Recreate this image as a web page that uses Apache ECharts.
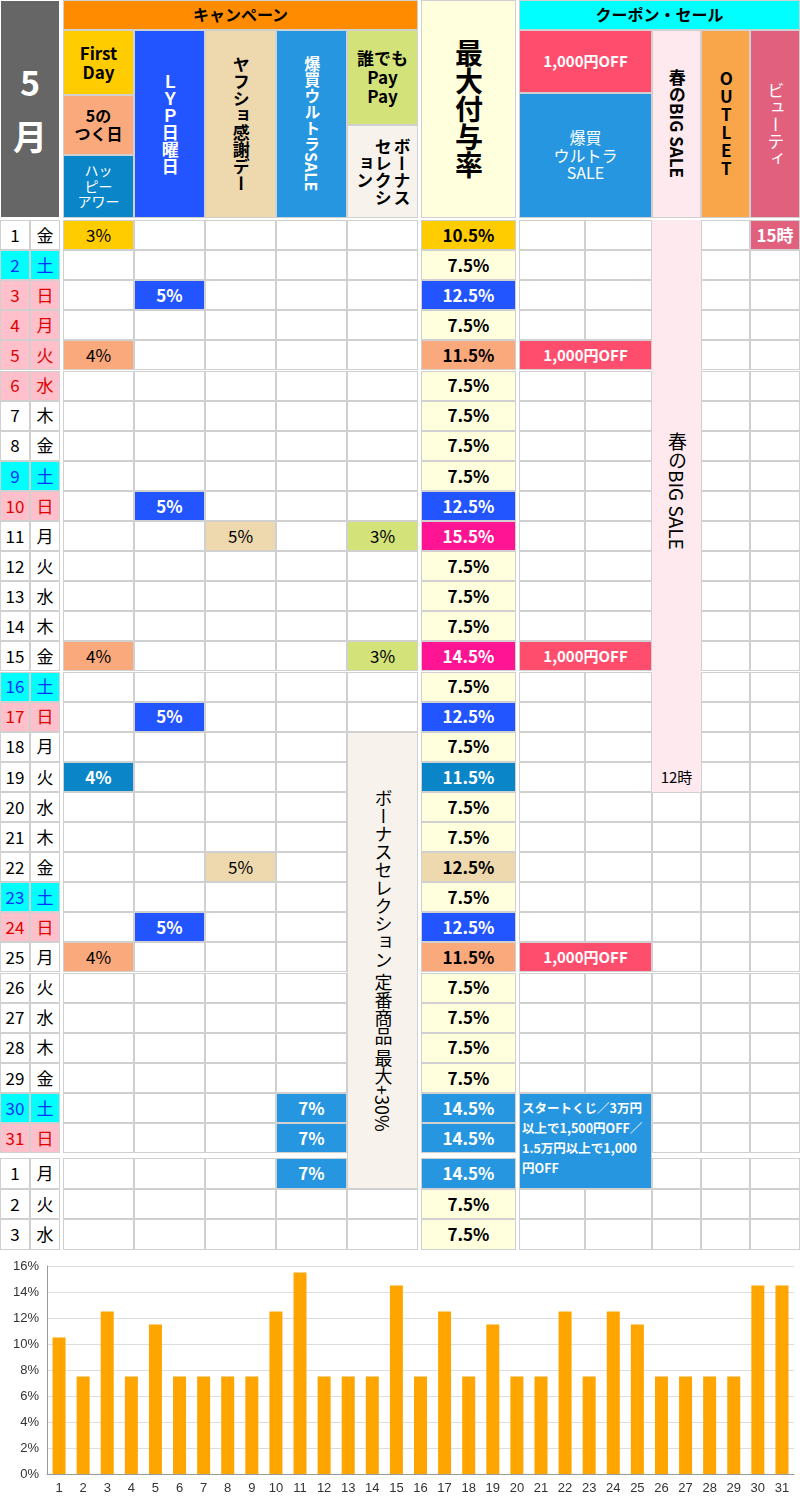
<!DOCTYPE html>
<html>
<head>
<meta charset="utf-8">
<script src="https://cdn.jsdelivr.net/npm/echarts@6/dist/echarts.min.js"></script>
<style>
  body { margin: 0; background: #fff; font-family: "Noto Sans CJK JP", sans-serif; }
  #table { position: absolute; left: 0; top: 0; width: 800px; height: 1252px; }
  .c { position: absolute; box-sizing: border-box; border: 1px solid #d0d0d0; display: flex;
       align-items: center; justify-content: center; text-align: center; font-size: 17px; line-height: 1.1; }
  .v { writing-mode: vertical-rl; }
  #chart { position: absolute; left: 0; top: 1254px; width: 800px; height: 246px; }
</style>
</head>
<body>
<div id="table"></div>
<div id="chart"></div>
<script>
// 5月 days
const days = ['1','2','3','4','5','6','7','8','9','10','11','12','13','14','15','16','17','18','19','20','21','22','23','24','25','26','27','28','29','30','31'];
const weekdays = ['金','土','日','月','火','水','木','金','土','日','月','火','水','木','金','土','日','月','火','水','木','金','土','日','月','火','水','木','金','土','日'];
const holidays = ['3','4','5','6','10','17','24','31'];
const maxRate = [10.5, 7.5, 12.5, 7.5, 11.5, 7.5, 7.5, 7.5, 7.5, 12.5, 15.5, 7.5, 7.5, 7.5, 14.5, 7.5, 12.5, 7.5, 11.5, 7.5, 7.5, 12.5, 7.5, 12.5, 11.5, 7.5, 7.5, 7.5, 7.5, 14.5, 14.5];
// 6月 next days
const nextDays = ['1','2','3'];
const nextWeekdays = ['月','火','水'];
const nextRate = [14.5, 7.5, 7.5];
// campaign marks: [day, text, kind]
const firstDayMarks = [['1','3%','first'],['5','4%','five'],['15','4%','five'],['25','4%','five'],['19','4%','happy']];
const lypMarks = ['3','10','17','24'];
const yafuMarks = ['11','22'];
const bakuMarks = ['30','31'];
const bonusMarks = ['11','15'];
const couponDays = ['5','15','25'];
const yTicks = ['0%','2%','4%','6%','8%','10%','12%','14%','16%'];

const COL = {day:[0,30], wd:[30,60], c1:[63,134], c2:[134,205], c3:[205,276], c4:[276,347], c5:[347,418],
  max:[421,516], k1:[519,585], k2:[585,652], big:[652,701], out:[701,750], bea:[750,800]};
const table = document.getElementById('table');
function cell(x0, x1, y0, y1, bg, html, css, cls) {
  const d = document.createElement('div');
  d.className = 'c' + (cls ? ' ' + cls : '');
  d.style.cssText = `left:${x0}px;top:${y0}px;width:${x1-x0}px;height:${y1-y0}px;background:${bg};` + (css || '');
  d.innerHTML = html || '';
  table.appendChild(d);
}
const rowY = i => 220 + i * 30.1;
const nRowY = j => 1158 + j * 30.6;
const wb = 'color:#fff;font-weight:bold;';

// header
cell(0, 60, 0, 218, '#666', '5<br>月', 'color:#fff;font-size:34px;font-weight:bold;border-color:#fff;line-height:1.6;');
cell(63, 418, 0, 30, '#FF8C00', 'キャンペーン', 'font-weight:bold;font-size:16px;');
cell(519, 800, 0, 30, '#00FFFF', 'クーポン・セール', 'font-weight:bold;font-size:16px;');
cell(63, 134, 30, 95, '#FFCC00', 'First<br>Day', 'font-weight:bold;');
cell(63, 134, 95, 155, '#F9A97B', '5の<br>つく日', 'font-weight:bold;font-size:16px;');
cell(63, 134, 155, 218, '#0A85C8', 'ハッ<br>ピー<br>アワー', 'color:#fff;font-size:14px;');
cell(134, 205, 30, 218, '#2255FF', 'ＬＹＰ日曜日', wb, 'v');
cell(205, 276, 30, 218, '#EED9AE', 'ヤフショ感謝デー', 'font-weight:bold;', 'v');
cell(276, 347, 30, 218, '#2696E0', '爆買ウルトラSALE', 'color:#fff;font-size:16px;font-weight:bold;', 'v');
cell(347, 418, 30, 125, '#D4E27A', '誰でも<br>Pay<br>Pay', 'font-weight:bold;');
cell(347, 418, 125, 218, '#F7F3EC', 'ボーナス<br>セレクシ<br>ョン', 'font-weight:bold;', 'v');
cell(421, 516, 0, 218, '#FFFFDD', '最大付与率', 'font-weight:bold;font-size:28px;', 'v');
cell(519, 652, 30, 93, '#FF4D6D', '1,000円OFF', 'color:#fff;font-size:15px;font-weight:bold;');
cell(519, 652, 93, 218, '#2696E0', '爆買<br>ウルトラ<br>SALE', 'color:#fff;font-size:16px;');
cell(652, 701, 30, 218, '#FDE9EE', '春のBIG SALE', 'font-weight:bold;', 'v');
cell(701, 750, 30, 218, '#F9A54A', 'OUTLET', 'font-weight:bold;text-orientation:upright;letter-spacing:1px;', 'v');
cell(750, 800, 30, 218, '#E0607E', 'ビューティ', 'color:#fff;', 'v');

function rateColor(d, r) {
  if (r === 7.5) return ['#FFFFDD', '#000'];
  if (d === '1') return ['#FFCC00', '#000'];
  if (lypMarks.includes(d)) return ['#2255FF', '#fff'];
  if (d === '19') return ['#0A85C8', '#fff'];
  if (d === '5' || d === '25') return ['#F9A97B', '#000'];
  if (d === '11' || d === '15') return ['#FF1493', '#fff'];
  if (d === '22') return ['#EED9AE', '#000'];
  return ['#2696E0', '#fff'];
}
function drawRow(d, w, r, y0, y1, isNext) {
  let bg = '#fff', fg = '#000';
  if (!isNext && w === '土') { bg = '#00FFFF'; fg = '#0033FF'; }
  if (!isNext && holidays.includes(d)) { bg = '#FFC0CB'; fg = '#E00000'; }
  cell(0, 30, y0, y1, bg, d, 'color:' + fg + ';');
  cell(30, 60, y0, y1, bg, w, 'color:' + fg + ';');
  ['c1','c2','c3','c4','c5','k1','k2','big','out','bea'].forEach(k => cell(COL[k][0], COL[k][1], y0, y1, '#fff'));
  const [rb, rf] = isNext && d === '1' ? ['#2696E0', '#fff'] : isNext ? ['#FFFFDD', '#000'] : rateColor(d, r);
  cell(421, 516, y0, y1, rb, r.toFixed(1) + '%', 'font-weight:bold;color:' + rf + ';');
}
days.forEach((d, i) => drawRow(d, weekdays[i], maxRate[i], rowY(i), rowY(i + 1)));
nextDays.forEach((d, j) => drawRow(d, nextWeekdays[j], nextRate[j], nRowY(j), nRowY(j + 1), true));

const idx = d => days.indexOf(d);
firstDayMarks.forEach(([d, t, k]) => {
  const bg = k === 'first' ? '#FFCC00' : k === 'five' ? '#F9A97B' : '#0A85C8';
  cell(63, 134, rowY(idx(d)), rowY(idx(d) + 1), bg, t, k === 'happy' ? wb : '');
});
lypMarks.forEach(d => cell(134, 205, rowY(idx(d)), rowY(idx(d) + 1), '#2255FF', '5%', wb));
yafuMarks.forEach(d => cell(205, 276, rowY(idx(d)), rowY(idx(d) + 1), '#EED9AE', '5%'));
bakuMarks.forEach(d => cell(276, 347, rowY(idx(d)), rowY(idx(d) + 1), '#2696E0', '7%', wb));
cell(276, 347, nRowY(0), nRowY(1), '#2696E0', '7%', wb);
bonusMarks.forEach(d => cell(347, 418, rowY(idx(d)), rowY(idx(d) + 1), '#D4E27A', '3%'));
cell(347, 418, rowY(idx('18')), nRowY(1), '#F7F3EC', 'ボーナスセレクション 定番商品 最大+30%', 'font-size:18px;', 'v');
couponDays.forEach(d => cell(519, 652, rowY(idx(d)), rowY(idx(d) + 1), '#FF4D6D', '1,000円OFF', 'color:#fff;font-size:15px;font-weight:bold;'));
cell(519, 652, rowY(idx('30')), nRowY(1), '#2696E0', 'スタートくじ／3万円以上で1,500円OFF／1.5万円以上で1,000円OFF',
  'color:#fff;font-size:12.5px;font-weight:bold;text-align:left;justify-content:flex-start;align-items:flex-start;padding:4px 2px;line-height:1.6;');
cell(652, 701, rowY(0), rowY(idx('19') + 1), '#FDE9EE', '', '');
cell(652, 701, rowY(0), rowY(idx('19')), '#FDE9EE', '春のBIG SALE', 'font-size:19px;border:none;', 'v');
cell(652, 701, rowY(idx('19')), rowY(idx('19') + 1), '#FDE9EE', '12時', 'font-size:15px;border:none;');
cell(750, 800, rowY(0), rowY(1), '#E0607E', '15時', wb);

const chart = echarts.init(document.getElementById('chart'));
chart.setOption({
  animation: false,
  grid: { left: 47, right: 6, top: 12, bottom: 26 },
  xAxis: {
    type: 'category', data: days,
    axisTick: { show: false },
    axisLine: { lineStyle: { color: '#999' } },
    axisLabel: { color: '#333', fontSize: 13, interval: 0 },
  },
  yAxis: {
    type: 'value', min: 0, max: 16, interval: 2,
    axisLabel: { color: '#333', fontSize: 13, formatter: v => yTicks[v / 2] },
    axisLine: { show: true, lineStyle: { color: '#999' } },
    splitLine: { lineStyle: { color: '#ddd' } },
  },
  series: [{ type: 'bar', data: maxRate, barWidth: 13, itemStyle: { color: '#FFA500' } }],
});
</script>
</body>
</html>
